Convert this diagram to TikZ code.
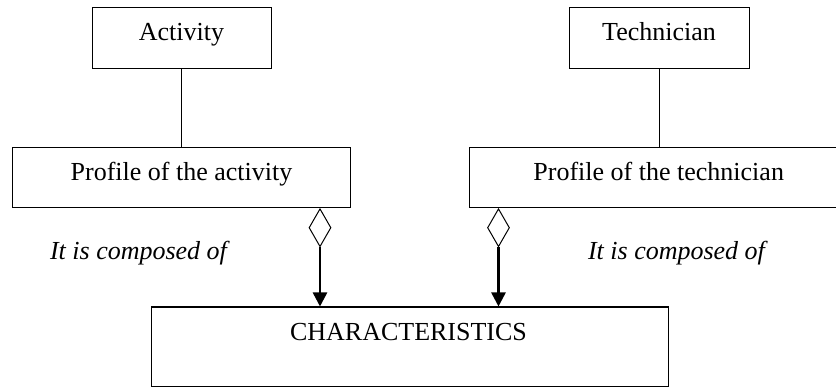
\documentclass[tikz,border=0pt]{standalone}
\usepackage{fontspec}
\setmainfont{Liberation Serif}
\usetikzlibrary{arrows.meta,shapes.geometric}
\begin{document}
\begin{tikzpicture}[x=1pt,y=-1pt,
  box/.style={draw, line width=1.2pt, rectangle, inner sep=0pt, anchor=north west},
  lbl/.style={font=\fontsize{26}{30}\selectfont, inner sep=0pt, anchor=base},
  note/.style={font=\fontsize{26}{30}\selectfont\itshape, inner sep=0pt, anchor=base},
  agg/.style={draw, line width=1pt, diamond, inner sep=0pt, minimum width=22pt, minimum height=38pt, anchor=north},
  link/.style={line width=1pt},
  comp/.style={line width=2.5pt, -{Triangle[width=14pt,length=14pt]}}]
\useasboundingbox (0,0) rectangle (836,387);

% class boxes
\node[box, minimum width=179.5pt, minimum height=61pt] (act) at (91.5,7) {};
\node[box, minimum width=179.5pt, minimum height=61pt] (tec) at (569,7) {};
\node[box, minimum width=338pt, minimum height=60pt] (pact) at (12,147) {};
\node[box, minimum width=375pt, minimum height=60pt] (ptec) at (469,147) {};
\node[box, minimum width=517pt, minimum height=79.5pt] (char) at (151,306.5) {};

% box texts
\node[lbl] (actT) at (181.5,41) {Activity};
\node[lbl] (tecT) at (659,41) {Technician};
\node[lbl] (pactT) at (181.5,181) {Profile of the activity};
\node[lbl] (ptecT) at (658.7,181) {Profile of the technician};
\node[lbl] (charT) at (408.5,340.5) {CHARACTERISTICS};

% association lines
\coordinate (actL) at (181,0);
\coordinate (tecL) at (659,0);
\draw[link] (act.south -| actL) -- (pact.north -| actL);
\draw[link] (tec.south -| tecL) -- (ptec.north -| tecL);

% aggregation diamonds and composition arrows
\coordinate (aggA) at (320,0);
\coordinate (aggB) at (498.5,0);
\node[agg] (dA) at (pact.south -| aggA) {};
\node[agg] (dB) at (ptec.south -| aggB) {};
\draw[comp] (dA.south) -- (dA.south |- char.north);
\draw[comp] (dB.south) -- (dB.south |- char.north);

% relation labels
\node[note] (noteA) at (138.5,260) {It is composed of};
\node[note] (noteB) at (676.5,260) {It is composed of};
\end{tikzpicture}
\end{document}
